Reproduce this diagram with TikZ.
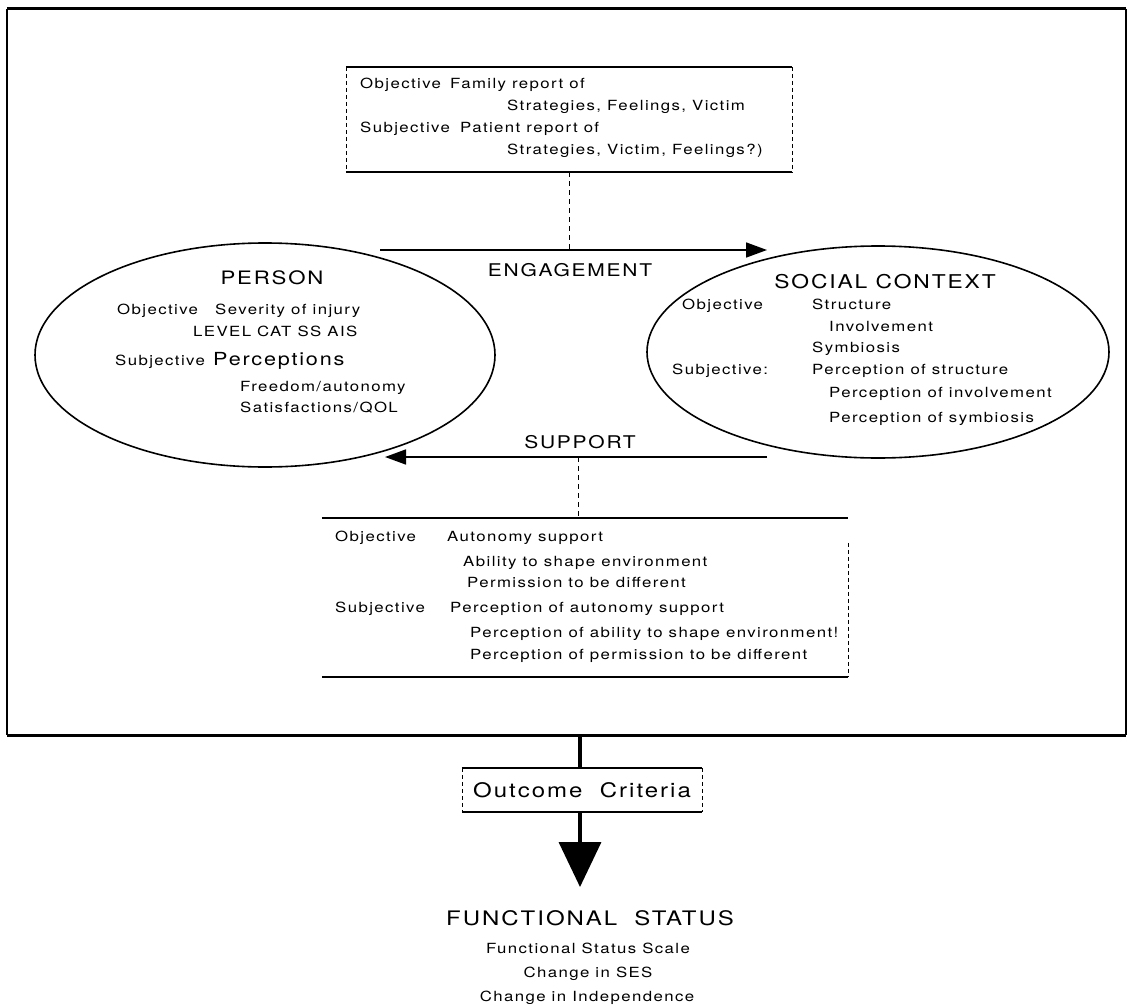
\documentclass[tikz,border=0pt]{standalone}
\usepackage{fontspec}
\setmainfont{TeX Gyre Heros}
\newfontfamily\scan[FakeStretch=1.2,LetterSpace=10]{TeX Gyre Heros}
\usetikzlibrary{shapes.geometric,arrows.meta}

\begin{document}
\begin{tikzpicture}[x=1pt,y=-1pt,
  body/.style={anchor=base west,inner sep=0pt,font=\scan\fontsize{14}{16}\selectfont},
  bodyc/.style={anchor=base,inner sep=0pt,font=\scan\fontsize{14}{16}\selectfont},
  head/.style={anchor=base,inner sep=0pt,font=\scan\fontsize{18.5}{20}\selectfont},
  oval/.style={draw,ellipse,line width=1.6pt,inner sep=0pt},
  heavy/.style={line width=2.8pt},
  rule/.style={line width=2pt},
  sideline/.style={line width=0.6pt,dash pattern=on 4pt off 3pt},
  link/.style={line width=0.7pt,dash pattern=on 5pt off 4pt},
  flow/.style={line width=1.6pt,-{Triangle[length=21pt,width=15pt]}},
  boxarea/.style={inner sep=0pt,draw=none},
]
\useasboundingbox (0,0) rectangle (1129,1006);
\fill[white] (0,0) rectangle (1129,1006);

% ---------- outer frame ----------
\node[boxarea,minimum width=1119pt,minimum height=726pt] (frame) at (566.5,372) {};
\draw[heavy] (frame.north west) -- (frame.north east);
\draw[line width=3.2pt] (frame.south west) -- (frame.south east);
\draw[line width=1.6pt] (frame.north west) -- (frame.south west);
\draw[line width=1.6pt] (frame.north east) -- (frame.south east);

% ---------- family / patient report box ----------
\node[boxarea,minimum width=446pt,minimum height=105pt] (famrep) at (569,119.5) {};
\draw[rule] (famrep.north west) -- (famrep.north east);
\draw[rule] (famrep.south west) -- (famrep.south east);
\draw[sideline] (famrep.north west) -- (famrep.south west);
\draw[sideline] (famrep.north east) -- (famrep.south east);
\node[body] (fr1) at (360,89) {Objective};
\node[body] (fr2) at (450,89) {Family report of};
\node[body] (fr3) at (507,111) {Strategies, Feelings, Victim};
\node[body] (fr4) at (360,132) {Subjective};
\node[body] (fr5) at (460,132) {Patient report of};
\node[body] (fr6) at (507,154) {Strategies, Victim, Feelings?)};

% ---------- person ----------
\node[oval,minimum width=460pt,minimum height=224pt] (person) at (265,355) {};
\node[head] (personT) at (272,284) {PERSON};
\node[body] (p1) at (117,314) {Objective};
\node[body] (p2) at (215,314) {Severity of injury};
\node[body] (p3) at (193,336) {LEVEL CAT SS AIS};
\node[body] (p4) at (115,365) {Subjective};
\node[body,font=\scan\fontsize{18}{20}\selectfont] (p5) at (213,365) {Perceptions};
\node[body] (p6) at (240,391) {Freedom/autonomy};
\node[body] (p7) at (240,412) {Satisfactions/QOL};

% ---------- social context ----------
\node[oval,minimum width=462pt,minimum height=212pt] (social) at (878,352) {};
\node[head,font=\scan\fontsize{19}{21}\selectfont] (socialT) at (885,288) {SOCIAL CONTEXT};
\node[body] (s1) at (682,309) {Objective};
\node[body] (s2) at (812,309) {Structure};
\node[body] (s3) at (829,331) {Involvement};
\node[body] (s4) at (812,352) {Symbiosis};
\node[body] (s5) at (672,374) {Subjective:};
\node[body] (s6) at (812,374) {Perception of structure};
\node[body] (s7) at (829,397) {Perception of involvement};
\node[body] (s8) at (829,422) {Perception of symbiosis};

% ---------- engagement ----------
\coordinate (engA) at (380,250);
\coordinate (engB) at (767,250);
\draw[flow] (engA) -- (engB);
\draw[link] (famrep.south) -- (famrep.south |- engA);
\node[head,font=\scan\fontsize{17.5}{20}\selectfont] (engT) at (570,276) {ENGAGEMENT};

% ---------- support ----------
\coordinate (supA) at (767,457);
\coordinate (supB) at (385,457);
\coordinate (supM) at (578,457);
\draw[flow] (supA) -- (supB);
\node[head,font=\scan\fontsize{17.5}{20}\selectfont] (supT) at (580,448) {SUPPORT};

% ---------- autonomy support box ----------
\node[boxarea,minimum width=526pt,minimum height=159pt] (auto) at (585,597.5) {};
\draw[rule] (auto.north west) -- (auto.north east);
\draw[rule] (auto.south west) -- (auto.south east);
\draw[sideline] ([yshift=-25pt]auto.north east) -- (auto.south east);
\draw[link] (supM) -- (supM |- auto.north);
\node[body] (a1) at (335,541) {Objective};
\node[body] (a2) at (447,541) {Autonomy support};
\node[body] (a3) at (463,566) {Ability to shape environment};
\node[body] (a4) at (467,587) {Permission to be different};
\node[body] (a5) at (335,612) {Subjective};
\node[body] (a6) at (450,612) {Perception of autonomy support};
\node[body] (a7) at (470,637) {Perception of ability to shape environment!};
\node[body] (a8) at (470,659) {Perception of permission to be different};

% ---------- outcome ----------
\node[boxarea,minimum width=240pt,minimum height=44pt,font=\scan\fontsize{20}{22}\selectfont] (outcome) at (582,790) {Outcome\ \ Criteria};
\draw[line width=2.4pt] (outcome.north west) -- (outcome.north east);
\draw[line width=2.4pt] (outcome.south west) -- (outcome.south east);
\draw[sideline] (outcome.north west) -- (outcome.south west);
\draw[sideline] (outcome.north east) -- (outcome.south east);
\coordinate (fbot) at (580,735);
\coordinate (fsTip) at (580,887);
\draw[line width=3.6pt] (fbot) -- (fbot |- outcome.north);
\draw[line width=3.6pt,-{Triangle[length=45pt,width=42pt]}] (fbot |- outcome.south) -- (fsTip);

% ---------- functional status ----------
\node[head,font=\scan\fontsize{20}{22}\selectfont] (fs) at (590,925) {FUNCTIONAL\ \ STATUS};
\node[bodyc] (fs1) at (588,953) {Functional Status Scale};
\node[bodyc] (fs2) at (588,977) {Change in SES};
\node[bodyc] (fs3) at (587,1001) {Change in Independence};
\end{tikzpicture}
\end{document}
